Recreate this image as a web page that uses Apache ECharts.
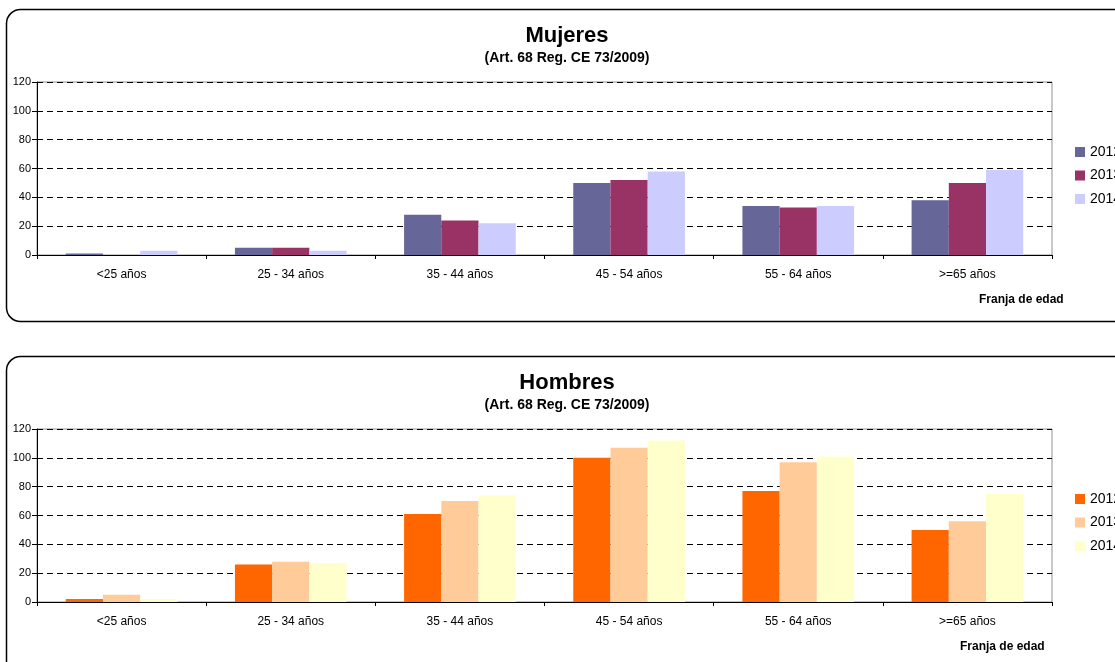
<!DOCTYPE html>
<html>
<head>
<meta charset="utf-8">
<script src="https://cdn.jsdelivr.net/npm/echarts@6/dist/echarts.min.js"></script>
<style>
  html, body { margin: 0; padding: 0; background: #fff; overflow: hidden; }
  #top { position: absolute; left: 0; top: 0; width: 1115px; height: 340px; }
  #bottom { position: absolute; left: 0; top: 340px; width: 1115px; height: 322px; }
</style>
</head>
<body>
<div id="top"></div>
<div id="bottom"></div>
<script>
// datos
var categories = ["<25 años", "25 - 34 años", "35 - 44 años", "45 - 54 años", "55 - 64 años", ">=65 años"];
var years = ["2012", "2013", "2014"];
var yTicks = { min: 0, max: 120, interval: 20 };

var mujeres2012 = [1, 5, 28, 50, 34, 38];
var mujeres2013 = [0, 5, 24, 52, 33, 50];
var mujeres2014 = [3, 3, 22, 58, 34, 59];

var hombres2012 = [2, 26, 61, 100, 77, 50];
var hombres2013 = [5, 28, 70, 107, 97, 56];
var hombres2014 = [2, 27, 74, 112, 101, 75];

var coloresMujeres = ["#666699", "#993366", "#CCCCFF"];
var coloresHombres = ["#FF6600", "#FFCC99", "#FFFFCC"];

var FONT = "Liberation Sans, Arial, sans-serif";

// construye la opcion de un panel
function buildOption(titulo, series, colores, off, panelH, franjaX) {
  return {
    animation: false,
    textStyle: { fontFamily: FONT },
    title: {
      text: titulo,
      subtext: "(Art. 68 Reg. CE 73/2009)",
      left: 567,
      textAlign: "center",
      top: 24 + off,
      padding: 0,
      itemGap: 2,
      textStyle: { fontFamily: FONT, fontSize: 22, fontWeight: "bold", color: "#000", lineHeight: 24 },
      subtextStyle: { fontFamily: FONT, fontSize: 14, fontWeight: "bold", color: "#000", lineHeight: 16 }
    },
    legend: {
      orient: "vertical",
      left: 1075,
      top: 145 + off,
      padding: 0,
      itemWidth: 10,
      itemHeight: 10,
      itemGap: 9.5,
      icon: "rect",
      selectedMode: false,
      textStyle: { fontFamily: FONT, fontSize: 14, color: "#000", lineHeight: 14 },
      data: years
    },
    grid: {
      left: 37,
      right: 63,
      top: 82 + off,
      height: 173,
      show: true,
      borderColor: "#909090",
      borderWidth: 1
    },
    xAxis: {
      type: "category",
      data: categories,
      axisLine: { lineStyle: { color: "#000", width: 1 } },
      axisTick: { show: true, length: 4, lineStyle: { color: "#000" } },
      axisLabel: { fontFamily: FONT, fontSize: 12, color: "#000", margin: 14 }
    },
    yAxis: {
      type: "value",
      min: yTicks.min,
      max: yTicks.max,
      interval: yTicks.interval,
      axisLine: { show: true, lineStyle: { color: "#000", width: 1 } },
      axisTick: { show: true, length: 5, lineStyle: { color: "#000" } },
      axisLabel: { fontFamily: FONT, fontSize: 11, color: "#000", margin: 6 },
      splitLine: { lineStyle: { color: "#000", type: [6, 4], width: 1 } }
    },
    graphic: [
      {
        type: "rect",
        shape: { x: 6.5, y: 9.5 + off, width: 1140, height: panelH, r: 14 },
        style: { fill: null, stroke: "#000", lineWidth: 1.5 },
        z: -10
      },
      {
        type: "text",
        left: franjaX,
        top: 294 + off,
        style: { text: "Franja de edad", font: "bold 12px " + FONT, fill: "#000" }
      }
    ],
    series: series.map(function (d, i) {
      return {
        name: years[i],
        type: "bar",
        data: d,
        barGap: "0%",
        barCategoryGap: "34%",
        itemStyle: { color: colores[i] }
      };
    }),
    color: colores
  };
}

var chartTop = echarts.init(document.getElementById("top"));
chartTop.setOption(buildOption("Mujeres", [mujeres2012, mujeres2013, mujeres2014], coloresMujeres, 0, 312, 979));

var chartBottom = echarts.init(document.getElementById("bottom"));
chartBottom.setOption(buildOption("Hombres", [hombres2012, hombres2013, hombres2014], coloresHombres, 7, 400, 960));
</script>
</body>
</html>
